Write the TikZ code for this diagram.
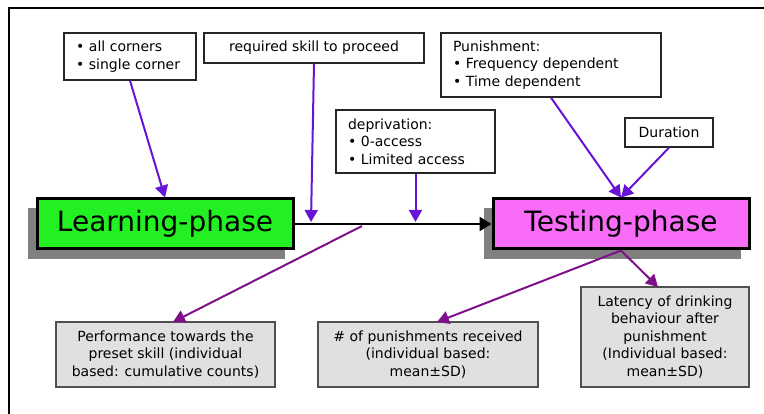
\documentclass[tikz,border=0pt]{standalone}
\usepackage{fontspec}
\setmainfont{DejaVu Sans}
\usetikzlibrary{arrows.meta,calc}
\definecolor{violetA}{RGB}{102,20,214}
\definecolor{purpleB}{RGB}{128,16,138}
\definecolor{greenfill}{RGB}{34,240,34}
\definecolor{pinkfill}{RGB}{248,108,248}
\definecolor{shadowgray}{RGB}{128,128,128}
\definecolor{boxgray}{RGB}{224,224,224}
\definecolor{edgegray}{RGB}{80,80,80}
\tikzset{
  smallfont/.style={font=\fontsize{14}{17.5}\selectfont},
  infobox/.style={draw=black!85, line width=1.3pt, fill=white, smallfont, inner sep=0pt},
  leftbox/.style={infobox, align=left, inner xsep=12pt},
  centerbox/.style={infobox, align=center},
  resultbox/.style={draw=edgegray, line width=1.3pt, fill=boxgray, smallfont, align=center, inner sep=0pt},
  phasebox/.style={draw=black, line width=3pt, font=\fontsize{28}{32}\selectfont, inner sep=0pt},
  violetarrow/.style={draw=violetA, line width=2pt, -{Triangle[length=12pt,width=13pt]}},
  purplearrow/.style={draw=purpleB, line width=2pt, -{Triangle[length=12pt,width=13pt]}},
  mainarrow/.style={draw=black, line width=2.5pt, -{Triangle[length=12pt,width=14pt]}},
}
\begin{document}
\begin{tikzpicture}[x=1pt,y=-1pt]
\useasboundingbox (0,0) rectangle (764,414);
% frame
\draw[line width=2pt] (9,414) -- (9,8) -- (764,8);

% shadows
\fill[shadowgray] (28,208) rectangle (285,259);
\fill[shadowgray] (484,208) rectangle (741,259);

% phase boxes
\node[phasebox, fill=greenfill, minimum width=256pt, minimum height=50pt] (learn) at (165,224) {Learning-phase};
\node[phasebox, fill=pinkfill, minimum width=256pt, minimum height=50pt] (test) at (621,224) {Testing-phase};

% info boxes
\node[leftbox, minimum height=47pt, text width=108pt] (corners) at (130,56.5) {• all corners\\• single corner};
\node[centerbox, minimum width=220pt, minimum height=30pt] (skill) at (314,48) {required skill to proceed};
\node[leftbox, minimum height=63pt, text width=135pt] (depriv) at (415.5,141.5) {deprivation:\\• 0-access\\• Limited access};
\node[leftbox, minimum height=64pt, text width=196pt] (punish) at (551,65) {Punishment:\\• Frequency dependent\\• Time dependent};
\node[centerbox, minimum width=88pt, minimum height=29pt] (duration) at (669,132.5) {Duration};

% result boxes
\node[resultbox, minimum width=219pt, minimum height=65pt] (perf) at (165.5,354.5) {Performance towards the\\preset skill (individual\\based: cumulative counts)};
\node[resultbox, minimum width=220pt, minimum height=65pt] (punrec) at (428,354.5) {\# of punishments received\\(individual based:\\mean±SD)};
\node[resultbox, minimum width=168pt, minimum height=100pt] (latency) at (665,337) {Latency of drinking\\behaviour after\\punishment\\(Individual based:\\mean±SD)};

% main arrow
\draw[mainarrow] (learn.east) -- (test.west);

% coordinates on the main line and targets
\coordinate (skillhit) at (311,222);
\coordinate (deprivhit) at (415.5,222);
\coordinate (perfstart) at (362,226);
\coordinate (perftop) at (173,322);
\coordinate (punrectop) at (437,322);
\coordinate (latencytop) at (658,287);

% violet arrows
\draw[violetarrow] (corners.south) -- (learn.north);
\draw[violetarrow] (skill.south) -- (skillhit);
\draw[violetarrow] (depriv.south) -- (deprivhit);
\draw[violetarrow] (punish.south) -- (test.north);
\draw[violetarrow] (duration.south) -- (test.north);

% purple arrows
\draw[purplearrow] (perfstart) -- (perftop);
\draw[purplearrow] (test.south) -- (punrectop);
\draw[purplearrow] (test.south) -- (latencytop);
\end{tikzpicture}
\end{document}
